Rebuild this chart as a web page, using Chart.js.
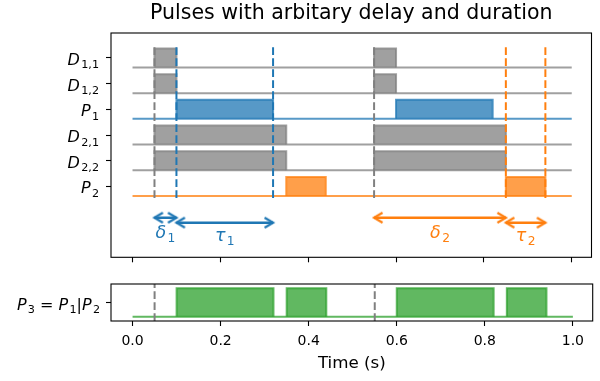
<!DOCTYPE html>
<html>
<head>
<meta charset="utf-8">
<script src="https://cdn.jsdelivr.net/npm/chart.js@4/dist/chart.umd.min.js"></script>
<style>
  html, body { margin: 0; padding: 0; background: #fff; }
  #wrap { position: relative; width: 600px; height: 381px; }
  #wrap canvas { position: absolute; left: 0; top: 0; }
</style>
</head>
<body>
<div id="wrap">
  <canvas id="pulses" width="600" height="381"></canvas>
  <canvas id="combined" width="600" height="381"></canvas>
</div>
<script>
// ---- data ----
var rowNames = ['D', 'D', 'P', 'D', 'D', 'P'];
var rowSubs = ['1,1', '1,2', '1', '2,1', '2,2', '2'];
var rowStarts = [[0.05, 0.55], [0.05, 0.55], [0.10, 0.60], [0.05, 0.55], [0.05, 0.55], [0.35, 0.85]];
var rowEnds = [[0.10, 0.60], [0.10, 0.60], [0.32, 0.82], [0.35, 0.85], [0.35, 0.85], [0.44, 0.94]];
var p3Starts = [0.10, 0.35, 0.60, 0.85];
var p3Ends = [0.32, 0.44, 0.82, 0.94];
var cycleStarts = [0.05, 0.55];
var p1Marks = [0.10, 0.32];
var p2Marks = [0.85, 0.94];
var arrowFrom = [0.05, 0.10, 0.55, 0.85];
var arrowTo = [0.10, 0.32, 0.85, 0.94];
var arrowNames = ['δ', 'τ', 'δ', 'τ'];
var arrowSubs = ['1', '1', '2', '2'];
var xTicks = [0, 0.2, 0.4, 0.6, 0.8, 1.0];
var tStart = 0, tEnd = 1;

// ---- layout / style ----
var ROW_GAP = 1.35, PULSE_H = 1;
var GRAY = [128, 128, 128], BLUE = [31, 119, 180], ORANGE = [255, 127, 14], GREEN = [44, 160, 44];
var rowColors = [GRAY, GRAY, BLUE, GRAY, GRAY, ORANGE];
var arrowColors = [BLUE, BLUE, ORANGE, ORANGE];
var FONT = 'DejaVu Sans';

function rgba(c, a) { return 'rgba(' + c.join(',') + ',' + a + ')'; }
function rowBase(i) { return (rowNames.length - 1 - i) * ROW_GAP; }

function pulseTrace(starts, ends, base, h) {
    var pts = [{x: tStart, y: base}];
    for (var i = 0; i < starts.length; i++) {
        pts.push({x: starts[i], y: base}, {x: starts[i], y: base + h},
                 {x: ends[i], y: base + h}, {x: ends[i], y: base});
    }
    pts.push({x: tEnd, y: base});
    return pts;
}

// pulse outline + fill; the flat baseline is drawn by its own dataset
function pulseSet(starts, ends, base, h, c) {
    return {
        data: pulseTrace(starts, ends, base, h),
        borderColor: rgba(c, 0.75), backgroundColor: rgba(c, 0.75),
        borderWidth: 2, fill: {value: base}, pointRadius: 0, order: 2,
        segment: {
            borderColor: function (s) {
                return (s.p0.parsed.y === base && s.p1.parsed.y === base) ? 'rgba(0,0,0,0)' : undefined;
            }
        }
    };
}
function baseSet(base, c) {
    return {
        data: [{x: tStart, y: base}, {x: tEnd, y: base}],
        borderColor: rgba(c, 0.75), borderWidth: 2, fill: false, pointRadius: 0, order: 1
    };
}

function arrowHead(c) {
    var cv = document.createElement('canvas');
    cv.width = 22; cv.height = 22;
    var g = cv.getContext('2d');
    g.strokeStyle = rgba(c, 1); g.fillStyle = rgba(c, 1);
    g.lineWidth = 2.2; g.lineJoin = 'miter';
    g.beginPath(); g.moveTo(2.5, 6); g.lineTo(11, 11); g.lineTo(2.5, 16); g.stroke();
    return cv;
}

// segments: [text, kind] kind = 'i' italic, 'n' normal, 's' subscript
function drawMath(ctx, segs, x, y, size, color, align) {
    var fonts = {
        i: 'italic ' + size + 'px "' + FONT + '"',
        n: size + 'px "' + FONT + '"',
        s: (size * 0.7) + 'px "' + FONT + '"'
    };
    var widths = [], total = 0;
    segs.forEach(function (s) {
        ctx.font = fonts[s[1]];
        var w = ctx.measureText(s[0]).width + (s[1] === 'i' ? size * 0.08 : 0);
        widths.push(w); total += w;
    });
    var x0 = align === 'right' ? x - total : (align === 'center' ? x - total / 2 : x);
    ctx.save();
    ctx.fillStyle = color; ctx.textAlign = 'left'; ctx.textBaseline = 'alphabetic';
    segs.forEach(function (s, k) {
        ctx.font = fonts[s[1]];
        ctx.fillText(s[0], x0, s[1] === 's' ? y + size * 0.22 : y);
        x0 += widths[k];
    });
    ctx.restore();
}

function drawFrame(chart) {
    var a = chart.chartArea, ctx = chart.ctx;
    ctx.save();
    ctx.strokeStyle = '#000'; ctx.lineWidth = 1.1;
    ctx.strokeRect(a.left, a.top, a.right - a.left, a.bottom - a.top);
    ctx.restore();
}

Chart.defaults.font.family = FONT;
Chart.defaults.color = '#000';

// ---- top panel ----
var topSets = [];
rowNames.forEach(function (n, i) {
    topSets.push(pulseSet(rowStarts[i], rowEnds[i], rowBase(i), PULSE_H, rowColors[i]));
    topSets.push(baseSet(rowBase(i), rowColors[i]));
});
var VTOP = 7.93, VBOT = -0.1;
function vline(x, c, lo, hi) {
    return {
        data: [{x: x, y: lo}, {x: x, y: hi}],
        borderColor: rgba(c, 1), borderWidth: 2, borderDash: [7.7, 3.3],
        fill: false, pointRadius: 0, order: 0
    };
}
cycleStarts.forEach(function (v) { topSets.push(vline(v, GRAY, VBOT, VTOP)); });
p1Marks.forEach(function (v) { topSets.push(vline(v, BLUE, VBOT, VTOP)); });
p2Marks.forEach(function (v) { topSets.push(vline(v, ORANGE, VBOT, VTOP)); });

var ARROW_Y = {'δ': -1.14, 'τ': -1.40};
var TEXT_Y = {'δ': -2.21, 'τ': -2.36};
arrowFrom.forEach(function (v, i) {
    var c = arrowColors[i], y = ARROW_Y[arrowNames[i]];
    topSets.push({
        data: [{x: v, y: y}, {x: arrowTo[i], y: y}],
        borderColor: rgba(c, 1), backgroundColor: rgba(c, 1), borderWidth: 2.5,
        pointStyle: arrowHead(c), pointRadius: 6, pointRotation: [180, 0],
        fill: false, order: 0
    });
});

var topLabels = {
    id: 'topLabels',
    afterDraw: function (chart) {
        var ctx = chart.ctx, xs = chart.scales.x, ys = chart.scales.y;
        drawFrame(chart);
        rowNames.forEach(function (n, i) {
            var y = ys.getPixelForValue(rowBase(i) + PULSE_H / 2) + 7;
            drawMath(ctx, [[n, 'i'], [rowSubs[i], 's']], 99, y, 16, '#000', 'right');
        });
        arrowNames.forEach(function (n, i) {
            var x = xs.getPixelForValue((arrowFrom[i] + arrowTo[i]) / 2);
            var y = ys.getPixelForValue(TEXT_Y[n]);
            drawMath(ctx, [[n, 'i'], [arrowSubs[i], 's']], x, y, 17.5, rgba(arrowColors[i], 1), 'center');
        });
    }
};

new Chart(document.getElementById('pulses').getContext('2d'), {
    type: 'line',
    data: {datasets: topSets},
    options: {
        responsive: false, animation: false,
        layout: {padding: {left: 0, right: 7.3, top: 0, bottom: 0}},
        plugins: {
            legend: {display: false}, tooltip: {enabled: false},
            title: {
                display: true, text: 'Pulses with arbitary delay and duration',
                font: {family: FONT, size: 20.5, weight: 'normal'}, color: '#000',
                padding: {top: 1.6, bottom: 6.8}, fullSize: false
            }
        },
        scales: {
            x: {
                type: 'linear', min: -0.049, max: 1.045,
                afterBuildTicks: function (s) { s.ticks = xTicks.map(function (v) { return {value: v}; }); },
                afterFit: function (s) { s.height = 381 - 257.3; },
                ticks: {display: false},
                grid: {drawOnChartArea: false, drawTicks: true, tickLength: 5, color: '#000', tickWidth: 1.1},
                border: {display: false}
            },
            y: {
                type: 'linear', min: -3.22, max: 8.56,
                afterBuildTicks: function (s) {
                    s.ticks = rowNames.map(function (n, i) { return {value: rowBase(i) + PULSE_H / 2}; });
                },
                afterFit: function (s) { s.width = 111; },
                ticks: {display: false},
                grid: {drawOnChartArea: false, drawTicks: true, tickLength: 5, color: '#000', tickWidth: 1.1},
                border: {display: false}
            }
        }
    },
    plugins: [topLabels]
});

// ---- bottom panel: P3 = P1 | P2 ----
var botSets = [pulseSet(p3Starts, p3Ends, 0, 1, GREEN), baseSet(0, GREEN)];
cycleStarts.forEach(function (v) { botSets.push(vline(v, GRAY, -0.15, 1.15)); });

var botLabels = {
    id: 'botLabels',
    afterDraw: function (chart) {
        var ys = chart.scales.y;
        drawFrame(chart);
        drawMath(chart.ctx,
            [['P', 'i'], ['3', 's'], [' = ', 'n'], ['P', 'i'], ['1', 's'], ['|', 'n'], ['P', 'i'], ['2', 's']],
            100, ys.getPixelForValue(0.5) + 7, 16, '#000', 'right');
    }
};

new Chart(document.getElementById('combined').getContext('2d'), {
    type: 'line',
    data: {datasets: botSets},
    options: {
        responsive: false, animation: false,
        layout: {padding: {left: 0, right: 7.3, top: 284, bottom: 0}},
        plugins: {legend: {display: false}, tooltip: {enabled: false}},
        scales: {
            x: {
                type: 'linear', min: -0.049, max: 1.045,
                afterBuildTicks: function (s) { s.ticks = xTicks.map(function (v) { return {value: v}; }); },
                afterFit: function (s) { s.height = 60; },
                ticks: {
                    font: {size: 14}, color: '#000', padding: 7, maxRotation: 0, autoSkip: false,
                    callback: function (v) { return v.toFixed(1); }
                },
                title: {display: true, text: 'Time (s)', font: {size: 16.7}, color: '#000', padding: {top: 2, bottom: 7}},
                grid: {drawOnChartArea: false, drawTicks: true, tickLength: 5, color: '#000', tickWidth: 1.1},
                border: {display: false}
            },
            y: {
                type: 'linear', min: -0.15, max: 1.15,
                afterBuildTicks: function (s) { s.ticks = [{value: 0.5}]; },
                afterFit: function (s) { s.width = 111; },
                ticks: {display: false},
                grid: {drawOnChartArea: false, drawTicks: true, tickLength: 5, color: '#000', tickWidth: 1.1},
                border: {display: false}
            }
        }
    },
    plugins: [botLabels]
});
</script>
</body>
</html>
